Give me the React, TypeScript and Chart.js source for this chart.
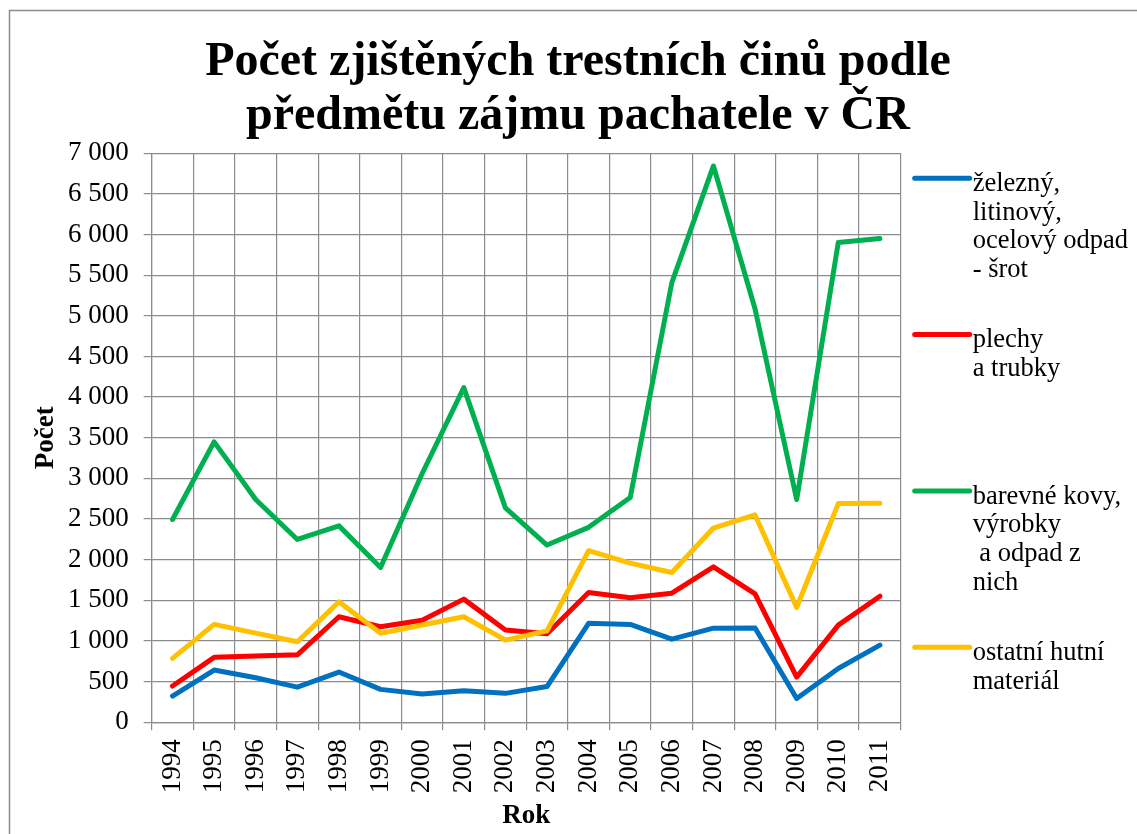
import React, { useEffect, useRef } from 'react';
import { Chart, registerables } from 'chart.js';

Chart.register(...registerables);

const YEARS = ['1994', '1995', '1996', '1997', '1998', '1999', '2000', '2001', '2002', '2003', '2004', '2005', '2006', '2007', '2008', '2009', '2010', '2011'];

const ZELEZNY = [323, 643, 548, 432, 618, 405, 348, 389, 356, 440, 1218, 1204, 1023, 1158, 1160, 292, 662, 949];
const PLECHY = [446, 799, 815, 830, 1298, 1175, 1255, 1515, 1135, 1088, 1597, 1533, 1588, 1912, 1579, 556, 1195, 1551];
const BAREVNE = [2495, 3449, 2740, 2249, 2416, 1905, 3060, 4117, 2637, 2180, 2398, 2765, 5408, 6843, 5084, 2740, 5903, 5950];
const OSTATNI = [787, 1204, 1097, 990, 1482, 1094, 1196, 1298, 1011, 1125, 2111, 1958, 1843, 2389, 2551, 1412, 2690, 2695];

const SERIES_LINES = [
  ['železný,', 'litinový,', 'ocelový odpad', '- šrot'],
  ['plechy', 'a trubky'],
  ['barevné kovy,', 'výrobky', ' a odpad z', 'nich'],
  ['ostatní hutní', 'materiál'],
];
const SERIES_COLORS = ['#0070C0', '#FF0000', '#00B050', '#FFC000'];
const SERIES_VALUES = [ZELEZNY, PLECHY, BAREVNE, OSTATNI];

const TITLE_LINES = ['Počet zjištěných trestních činů podle', 'předmětu zájmu pachatele v ČR'];
const Y_TITLE = 'Počet';
const X_TITLE = 'Rok';

const FONT = "'Liberation Serif', 'Times New Roman', serif";
const GRID = '#8c8c8c';

const W = 1140;
const H = 840;

const framePlugin = {
  id: 'frame',
  beforeDraw(chart: any) {
    const ctx = chart.ctx;
    ctx.save();
    ctx.fillStyle = '#ffffff';
    ctx.fillRect(0, 0, chart.width, chart.height);
    ctx.strokeStyle = GRID;
    ctx.lineWidth = 1.5;
    ctx.strokeRect(1.5, 2.5, chart.width + 20, chart.height + 20);
    ctx.restore();
  },
};

const legendPlugin = {
  id: 'customLegend',
  afterDraw(chart: any) {
    const ctx = chart.ctx;
    const area = chart.chartArea;
    const x0 = area.right + 14;
    const x1 = x0 + 55;
    const tx = x1 + 3;
    const top = 170.3;
    const step = 156.3;
    const lh = 28.7;
    ctx.save();
    ctx.font = `26.5px ${FONT}`;
    ctx.textBaseline = 'alphabetic';
    ctx.textAlign = 'left';
    chart.data.datasets.forEach((ds: any, i: number) => {
      const y = top + i * step;
      ctx.strokeStyle = ds.borderColor;
      ctx.lineWidth = 5;
      ctx.lineCap = 'round';
      ctx.beginPath();
      ctx.moveTo(x0, y);
      ctx.lineTo(x1, y);
      ctx.stroke();
      ctx.fillStyle = '#000000';
      (ds.legendLines as string[]).forEach((line, j) => {
        ctx.fillText(line, tx, y + 12.7 + j * lh);
      });
    });
    ctx.restore();
  },
};

function fmt(v: number) {
  return String(v).replace(/\B(?=(\d{3})+(?!\d))/g, ' ');
}

export default function App() {
  const ref = useRef<HTMLCanvasElement | null>(null);

  useEffect(() => {
    if (!ref.current) return;
    const chart = new Chart(ref.current, {
      type: 'line',
      data: {
        labels: YEARS,
        datasets: SERIES_VALUES.map((vals, i) => ({
          label: SERIES_LINES[i].join(' '),
          legendLines: SERIES_LINES[i],
          data: vals,
          borderColor: SERIES_COLORS[i],
          backgroundColor: SERIES_COLORS[i],
          borderWidth: 5,
          pointRadius: 0,
          pointHoverRadius: 0,
          tension: 0,
          fill: false,
          borderCapStyle: 'round',
          borderJoinStyle: 'round',
          order: SERIES_VALUES.length - i,
        })) as any,
      },
      options: {
        responsive: false,
        animation: false,
        devicePixelRatio: 1,
        layout: { padding: 0 },
        plugins: {
          legend: { display: false },
          tooltip: { enabled: false },
          title: {
            display: true,
            text: TITLE_LINES,
            color: '#000000',
            font: { family: FONT, size: 48, weight: 'bold', lineHeight: 54 / 48 },
            padding: { top: 28, bottom: 9.2 },
          },
        },
        scales: {
          x: {
            type: 'category',
            offset: true,
            grid: { offset: true, color: GRID, lineWidth: 1.2, tickLength: 8, tickColor: GRID },
            border: { color: GRID, width: 1.2 },
            ticks: {
              color: '#000000',
              font: { family: FONT, size: 27 },
              minRotation: 90,
              maxRotation: 90,
              padding: 9,
              autoSkip: false,
            },
            title: {
              display: true,
              text: X_TITLE,
              color: '#000000',
              font: { family: FONT, size: 27, weight: 'bold' },
              padding: { top: 0, bottom: 15.9 },
            },
            afterFit(scale: any) {
              scale.height = H - 714.3;
            },
          },
          y: {
            min: 0,
            max: 7000,
            grid: { color: GRID, lineWidth: 1.2, tickLength: 8, tickColor: GRID },
            border: { color: GRID, width: 1.2 },
            ticks: {
              stepSize: 500,
              color: '#000000',
              font: { family: FONT, size: 27 },
              padding: 15,
              callback: (v: any) => fmt(Number(v)),
            },
            title: {
              display: true,
              text: Y_TITLE,
              color: '#000000',
              font: { family: FONT, size: 27, weight: 'bold' },
              padding: { top: 21.8, bottom: 0 },
            },
            afterFit(scale: any) {
              scale.width = 143.7;
            },
          },
          legendSpace: {
            type: 'linear',
            position: 'right',
            display: true,
            grid: { display: false, drawTicks: false },
            border: { display: false },
            ticks: { display: false },
            afterFit(scale: any) {
              scale.width = W - 892.7;
            },
          },
        },
      } as any,
      plugins: [framePlugin, legendPlugin],
    });
    return () => chart.destroy();
  }, []);

  return (
    <div style={{ position: 'fixed', left: 8, top: 8, width: 1129, height: 826, overflow: 'hidden' }}>
      <canvas ref={ref} width={W} height={H} style={{ width: W, height: H, display: 'block' }} />
    </div>
  );
}
